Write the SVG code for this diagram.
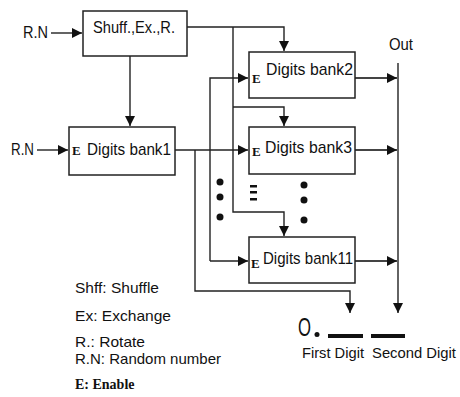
<svg xmlns="http://www.w3.org/2000/svg" width="460" height="397" viewBox="0 0 460 397">
<defs>
<marker id="ah" markerUnits="userSpaceOnUse" markerWidth="11" markerHeight="10" refX="10" refY="5" orient="auto">
<path d="M0,0 L10,5 L0,10 z" fill="#111"/>
</marker>
</defs>
<style>
.box{fill:#fff;stroke:#222;stroke-width:1.5}
.ln{fill:none;stroke:#222;stroke-width:1.4}
.out{fill:none;stroke:#444;stroke-width:2}
.t{font-family:"Liberation Sans",Arial,sans-serif;font-size:17px;fill:#111}
.lg{font-family:"Liberation Sans",Arial,sans-serif;font-size:15px;fill:#111}
.e{font-family:"Liberation Serif","Times New Roman",serif;font-size:13px;fill:#111;font-weight:bold}
.dot{fill:#111}
</style>
<rect width="460" height="397" fill="#fff"/>
<g id="connectors">
<line class="ln" x1="51" y1="33" x2="82" y2="33" marker-end="url(#ah)"/>
<line class="ln" x1="130" y1="56" x2="130" y2="126" marker-end="url(#ah)"/>
<path class="ln" d="M187,27 H284 V51" marker-end="url(#ah)"/>
<path class="ln" d="M233,27 V212 H284 V236" marker-end="url(#ah)"/>
<path class="ln" d="M233,107 H284 V126" marker-end="url(#ah)"/>
<line class="ln" x1="37" y1="150" x2="68" y2="150" marker-end="url(#ah)"/>
<path class="ln" d="M175,150 H248" marker-end="url(#ah)"/>
<path class="ln" d="M195,150 V291 H350 V313" marker-end="url(#ah)"/>
<path class="ln" d="M210,261 V78 H248" marker-end="url(#ah)"/>
<path class="ln" d="M210,261 H248" marker-end="url(#ah)"/>
<path class="out" d="M355,78 H397" marker-end="url(#ah)"/>
<path class="out" d="M355,150 H397" marker-end="url(#ah)"/>
<path class="out" d="M355,261 H397" marker-end="url(#ah)"/>
<path class="ln" d="M398,63 V313" marker-end="url(#ah)"/>
</g>
<g id="shuff">
<rect class="box" x="83" y="11" width="104" height="45"/>
<text class="t" x="93" y="33" textLength="82" lengthAdjust="spacingAndGlyphs">Shuff.,Ex.,R.</text>
</g>
<g id="rn1"><text class="t" x="23" y="38" textLength="25" lengthAdjust="spacingAndGlyphs">R.N</text></g>
<g id="rn2"><text class="t" x="11" y="155" textLength="23" lengthAdjust="spacingAndGlyphs">R.N</text></g>
<g id="bank1">
<rect class="box" x="69" y="127" width="106" height="48"/>
<text class="e" x="72" y="155">E</text>
<text class="t" x="87" y="155" textLength="84" lengthAdjust="spacingAndGlyphs">Digits bank1</text>
</g>
<g id="bank2">
<rect class="box" x="249" y="52" width="106" height="46"/>
<text class="e" x="252" y="83">E</text>
<text class="t" x="266" y="75" textLength="87" lengthAdjust="spacingAndGlyphs">Digits bank2</text>
</g>
<g id="bank3">
<rect class="box" x="249" y="127" width="106" height="47"/>
<text class="e" x="252" y="156">E</text>
<text class="t" x="265" y="153" textLength="87" lengthAdjust="spacingAndGlyphs">Digits bank3</text>
</g>
<g id="bank11">
<rect class="box" x="249" y="237" width="106" height="46"/>
<text class="e" x="251" y="268">E</text>
<text class="t" x="263" y="264" textLength="90" lengthAdjust="spacingAndGlyphs">Digits bank11</text>
</g>
<g id="out"><text class="t" x="389" y="50" textLength="24" lengthAdjust="spacingAndGlyphs">Out</text></g>
<g id="dots">
<circle class="dot" cx="220" cy="182" r="3.5"/>
<circle class="dot" cx="220" cy="197" r="3.5"/>
<circle class="dot" cx="220" cy="217" r="3.5"/>
<rect class="dot" x="250" y="185" width="7" height="2.5"/>
<rect class="dot" x="250" y="191" width="7" height="2.5"/>
<rect class="dot" x="250" y="198" width="7" height="2.5"/>
<circle class="dot" cx="304" cy="185" r="3.5"/>
<circle class="dot" cx="304" cy="200" r="3.5"/>
<circle class="dot" cx="304" cy="220" r="3.5"/>
</g>
<g id="digits">
<text class="t" x="298" y="336" style="font-size:26px" textLength="13" lengthAdjust="spacingAndGlyphs">O</text>
<circle class="dot" cx="317" cy="334.5" r="2.5"/>
<rect class="dot" x="328" y="334" width="35" height="4"/>
<rect class="dot" x="371" y="334" width="34" height="4"/>
<text class="t" x="302" y="358" style="font-size:15px" textLength="62" lengthAdjust="spacingAndGlyphs">First Digit</text>
<text class="t" x="372" y="358" style="font-size:15px" textLength="84" lengthAdjust="spacingAndGlyphs">Second Digit</text>
</g>
<g id="legend">
<text class="lg" x="75" y="293" textLength="84" lengthAdjust="spacingAndGlyphs">Shff: Shuffle</text>
<text class="lg" x="75" y="321" textLength="96" lengthAdjust="spacingAndGlyphs">Ex: Exchange</text>
<text class="lg" x="75" y="347" textLength="70" lengthAdjust="spacingAndGlyphs">R.: Rotate</text>
<text class="lg" x="75" y="364" textLength="146" lengthAdjust="spacingAndGlyphs">R.N: Random number</text>
<text class="e" x="75" y="389" style="font-size:14px">E: Enable</text>
</g>
</svg>
